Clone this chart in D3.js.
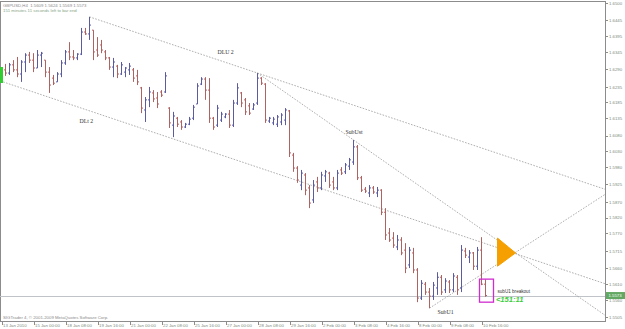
<!DOCTYPE html>
<html>
<head>
<meta charset="utf-8">
<script src="https://cdn.jsdelivr.net/npm/d3@7"></script>
<style>
    body { margin: 0; background: #fff; }
    svg text { font-family: "Liberation Sans", Arial, sans-serif; }
    .axis path, .axis line { stroke: #8c8c8c; shape-rendering: crispEdges; }
    .axis text { fill: #7d8a7d; font-size: 4.3px; }
    .trend { fill: none; stroke: #9a9a9a; stroke-width: 0.8; stroke-dasharray: 1.6 1.4; }
    .obj { font-family: "Liberation Serif", "Times New Roman", serif; font-size: 5.8px; fill: #333; }
</style>
</head>
<body>
<svg id="chart"></svg>
<script>
/**********************************************
 *
 * GBPUSD H4 bars, MT4 style
 *
 **********************************************/
const width = 625
const height = 329

const symbol = 'GBPUSD'
const period = 'H4'

// bar index -> OHLC
const opens = [
    1.6262, 1.6288, 1.6278, 1.6304, 1.6288, 1.6275, 1.6313, 1.6335, 1.6319, 1.6294,
    1.6335, 1.6319, 1.6281, 1.6262, 1.6250, 1.6275, 1.6310, 1.6345, 1.6329, 1.6326,
    1.6338, 1.6408, 1.6402, 1.6414, 1.6351, 1.6367, 1.6345, 1.6326, 1.6297, 1.6300,
    1.6275, 1.6281, 1.6288, 1.6288, 1.6269, 1.6231, 1.6161, 1.6193, 1.6215, 1.6199,
    1.6218, 1.6218, 1.6167, 1.6113, 1.6135, 1.6123, 1.6107, 1.6116, 1.6135, 1.6180,
    1.6243, 1.6259, 1.6224, 1.6135, 1.6113, 1.6129, 1.6139, 1.6148, 1.6113, 1.6183,
    1.6215, 1.6193, 1.6174, 1.6164, 1.6183, 1.6262, 1.6243, 1.6126, 1.6120, 1.6116,
    1.6123, 1.6129, 1.6158, 1.6018, 1.5977, 1.5923, 1.5955, 1.5914, 1.5876, 1.5933,
    1.5914, 1.5952, 1.5961, 1.5933, 1.5914, 1.5971, 1.5965, 1.5983, 1.5996, 1.6044,
    1.5946, 1.5910, 1.5898, 1.5914, 1.5898, 1.5907, 1.5837, 1.5771, 1.5755, 1.5727,
    1.5749, 1.5717, 1.5670, 1.5708, 1.5654, 1.5565, 1.5609, 1.5584, 1.5571, 1.5597,
    1.5631, 1.5591, 1.5616, 1.5591, 1.5631, 1.5597, 1.5714, 1.5695, 1.5708, 1.5666,
    1.5717, 1.5609
]
const highs = [
    1.6294, 1.6307, 1.6310, 1.6319, 1.6329, 1.6319, 1.6341, 1.6345, 1.6341, 1.6351,
    1.6345, 1.6319, 1.6297, 1.6272, 1.6281, 1.6319, 1.6351, 1.6376, 1.6351, 1.6341,
    1.6421, 1.6421, 1.6456, 1.6414, 1.6392, 1.6383, 1.6351, 1.6329, 1.6326, 1.6304,
    1.6313, 1.6297, 1.6310, 1.6294, 1.6288, 1.6234, 1.6202, 1.6234, 1.6224, 1.6218,
    1.6224, 1.6281, 1.6170, 1.6155, 1.6139, 1.6129, 1.6120, 1.6139, 1.6177, 1.6246,
    1.6265, 1.6265, 1.6262, 1.6139, 1.6177, 1.6155, 1.6151, 1.6161, 1.6193, 1.6246,
    1.6218, 1.6199, 1.6183, 1.6183, 1.6278, 1.6265, 1.6246, 1.6139, 1.6139, 1.6145,
    1.6151, 1.6167, 1.6161, 1.6025, 1.5983, 1.5971, 1.5961, 1.5923, 1.5939, 1.5949,
    1.5965, 1.5971, 1.5965, 1.5949, 1.5971, 1.5980, 1.5993, 1.6009, 1.6066, 1.6050,
    1.5952, 1.5917, 1.5923, 1.5920, 1.5917, 1.5910, 1.5850, 1.5787, 1.5774, 1.5765,
    1.5758, 1.5739, 1.5727, 1.5724, 1.5660, 1.5622, 1.5616, 1.5597, 1.5616, 1.5647,
    1.5638, 1.5628, 1.5622, 1.5644, 1.5638, 1.5733, 1.5724, 1.5717, 1.5711, 1.5727,
    1.5758, 1.5624
]
const lows = [
    1.6256, 1.6269, 1.6272, 1.6281, 1.6265, 1.6250, 1.6281, 1.6310, 1.6281, 1.6294,
    1.6297, 1.6265, 1.6215, 1.6240, 1.6250, 1.6265, 1.6304, 1.6319, 1.6319, 1.6319,
    1.6335, 1.6399, 1.6383, 1.6319, 1.6329, 1.6341, 1.6319, 1.6288, 1.6265, 1.6262,
    1.6272, 1.6265, 1.6272, 1.6250, 1.6240, 1.6151, 1.6123, 1.6170, 1.6186, 1.6167,
    1.6202, 1.6215, 1.6104, 1.6075, 1.6107, 1.6098, 1.6104, 1.6113, 1.6129, 1.6180,
    1.6240, 1.6193, 1.6120, 1.6098, 1.6107, 1.6123, 1.6135, 1.6104, 1.6107, 1.6177,
    1.6170, 1.6145, 1.6145, 1.6161, 1.6177, 1.6240, 1.6120, 1.6120, 1.6113, 1.6107,
    1.6113, 1.6113, 1.6012, 1.5965, 1.5930, 1.5907, 1.5891, 1.5850, 1.5866, 1.5901,
    1.5907, 1.5933, 1.5914, 1.5907, 1.5907, 1.5955, 1.5958, 1.5971, 1.5987, 1.5939,
    1.5901, 1.5898, 1.5885, 1.5895, 1.5885, 1.5828, 1.5749, 1.5743, 1.5724, 1.5717,
    1.5701, 1.5644, 1.5660, 1.5644, 1.5552, 1.5559, 1.5575, 1.5533, 1.5559, 1.5575,
    1.5575, 1.5581, 1.5581, 1.5584, 1.5575, 1.5584, 1.5692, 1.5676, 1.5654, 1.5654,
    1.5606, 1.5569
]
const closes = [
    1.6288, 1.6278, 1.6304, 1.6288, 1.6275, 1.6313, 1.6335, 1.6319, 1.6294, 1.6335,
    1.6341, 1.6281, 1.6240, 1.6246, 1.6275, 1.6310, 1.6345, 1.6329, 1.6326, 1.6338,
    1.6408, 1.6402, 1.6430, 1.6345, 1.6335, 1.6351, 1.6326, 1.6297, 1.6313, 1.6275,
    1.6304, 1.6294, 1.6300, 1.6262, 1.6250, 1.6167, 1.6193, 1.6218, 1.6196, 1.6180,
    1.6208, 1.6269, 1.6120, 1.6142, 1.6116, 1.6107, 1.6116, 1.6132, 1.6170, 1.6237,
    1.6259, 1.6224, 1.6135, 1.6107, 1.6167, 1.6148, 1.6148, 1.6113, 1.6183, 1.6231,
    1.6183, 1.6155, 1.6151, 1.6177, 1.6262, 1.6246, 1.6129, 1.6135, 1.6132, 1.6139,
    1.6145, 1.6161, 1.6025, 1.5977, 1.5939, 1.5961, 1.5907, 1.5866, 1.5923, 1.5914,
    1.5955, 1.5965, 1.5923, 1.5914, 1.5961, 1.5961, 1.5987, 1.6003, 1.6044, 1.5946,
    1.5907, 1.5904, 1.5914, 1.5901, 1.5907, 1.5837, 1.5765, 1.5749, 1.5733, 1.5749,
    1.5708, 1.5660, 1.5717, 1.5654, 1.5565, 1.5612, 1.5584, 1.5571, 1.5606, 1.5631,
    1.5584, 1.5619, 1.5591, 1.5635, 1.5591, 1.5717, 1.5701, 1.5708, 1.5666, 1.5717,
    1.5609, 1.5573
]

const priceTicks = [
    1.6500, 1.6445, 1.6395, 1.6345, 1.6290, 1.6235, 1.6185, 1.6135, 1.6080, 1.6030,
    1.5980, 1.5925, 1.5870, 1.5820, 1.5770, 1.5715, 1.5660, 1.5610, 1.5560, 1.5505
]
const dateTicks = [0, 8, 16, 24, 32, 40, 48, 56, 64, 72, 80, 88, 96, 104, 112, 120]
const dateLabels = [
    '13 Jan 2010', '15 Jan 00:00', '18 Jan 08:00', '19 Jan 16:00', '21 Jan 00:00',
    '22 Jan 08:00', '25 Jan 16:00', '27 Jan 00:00', '28 Jan 08:00', '29 Jan 16:00',
    '2 Feb 00:00', '3 Feb 08:00', '4 Feb 16:00', '8 Feb 00:00', '9 Feb 08:00', '10 Feb 16:00'
]

// chart objects, anchored at [bar, price]
const trendLines = [
    [[22, 1.6456], [64, 1.6278]],
    [[-1, 1.6256], [43, 1.6069]],
    [[64, 1.6278], [88, 1.6066]],
    [[107, 1.5533], [121, 1.5648]]
]
const textObjects = [
    [54, 1.6338, 'DLU 2'],
    [19.5, 1.6120, 'DLt 2'],
    [86, 1.6085, 'SubUst'],
    [109, 1.5514, 'SubU1']
]
const triangle = [[124, 1.5755], [124, 1.5666], [128.5, 1.5708]]
const breakoutBox = [[119.5, 1.5625], [123, 1.5552]]
const breakoutText = [124, 1.5581, 'subU1 breakout']
const timerText = [123.6, 1.5554, '<151:11']
const leftMarker = [1.6297, 1.6246]

const timerInfo = '151 minutes 11 seconds left to bar end'
const copyright = 'SIGTrader 4, \u00a9 2001-2009 MetaQuotes Software Corp.'

const plotRight = 605
const plotTop = 1.5
const plotBottom = 321.5
const lastBar = 151

const svg = d3.select('#chart')
    .attr('width', width)
    .attr('height', height)

const x = d3.scaleLinear().domain([0, lastBar]).range([1.5, plotRight + 0.5])
const y = d3.scaleLinear().domain([1.5505, 1.6500]).range([317, 3])

svg.append('clipPath').attr('id', 'plot')
    .append('rect')
    .attr('x', 0).attr('y', plotTop)
    .attr('width', plotRight).attr('height', plotBottom - plotTop)

// frame
svg.append('rect')
    .attr('x', 0.5).attr('y', plotTop)
    .attr('width', plotRight).attr('height', plotBottom - plotTop)
    .attr('fill', 'none').attr('stroke', '#8c8c8c')
    .attr('shape-rendering', 'crispEdges')

const plot = svg.append('g').attr('clip-path', 'url(#plot)')

// current price line
const last = closes.length - 1
plot.append('line')
    .attr('x1', 0).attr('x2', plotRight)
    .attr('y1', Math.round(y(closes[last])) + 0.5).attr('y2', Math.round(y(closes[last])) + 0.5)
    .attr('stroke', '#c0c4c8')

// trend lines, drawn as rays to the right edge
function priceAt(line, bar) {
    const [[b1, p1], [b2, p2]] = line
    return p1 + (p2 - p1) * (bar - b1) / (b2 - b1)
}
plot.selectAll('.trend')
    .data(trendLines)
    .join('line')
    .attr('class', 'trend')
    .attr('x1', d => x(d[0][0])).attr('y1', d => y(d[0][1]))
    .attr('x2', x(lastBar)).attr('y2', d => y(priceAt(d, lastBar)))

// bars
const bars = d3.range(opens.length).map(i => ({
    i, o: opens[i], h: highs[i], l: lows[i], c: closes[i]
}))
plot.selectAll('.bar')
    .data(bars)
    .join('path')
    .attr('class', 'bar')
    .attr('fill', 'none')
    .attr('stroke', d => d.c >= d.o ? '#5b5ba2' : '#b06262')
    .attr('stroke-width', 1)
    .attr('d', d => {
        const cx = x(d.i)
        return `M${cx},${y(d.h)}V${y(d.l)}M${cx - 1.5},${y(d.o)}H${cx}M${cx},${y(d.c)}H${cx + 1.5}`
    })

// green marker on the left edge, drawn over the frame
svg.append('rect')
    .attr('x', 0).attr('width', 3)
    .attr('y', y(leftMarker[0])).attr('height', y(leftMarker[1]) - y(leftMarker[0]))
    .attr('fill', '#33cc33')
    .attr('shape-rendering', 'crispEdges')

// triangle and breakout box
plot.append('path')
    .datum(triangle)
    .attr('d', d3.line().x(d => x(d[0])).y(d => y(d[1])).curve(d3.curveLinearClosed))
    .attr('fill', '#f5a000')
    .attr('stroke', '#f5a000')

plot.append('rect')
    .attr('x', x(breakoutBox[0][0])).attr('y', y(breakoutBox[0][1]))
    .attr('width', x(breakoutBox[1][0]) - x(breakoutBox[0][0]))
    .attr('height', y(breakoutBox[1][1]) - y(breakoutBox[0][1]))
    .attr('fill', 'none').attr('stroke', '#d02cd0').attr('stroke-width', 1.3)

// text objects
plot.selectAll('.obj')
    .data(textObjects)
    .join('text')
    .attr('class', 'obj')
    .attr('x', d => x(d[0])).attr('y', d => y(d[1]))
    .text(d => d[2])

plot.append('text')
    .attr('x', x(breakoutText[0])).attr('y', y(breakoutText[1]))
    .attr('font-size', 4.6).attr('fill', '#333')
    .text(breakoutText[2])

plot.append('text')
    .attr('x', x(timerText[0])).attr('y', y(timerText[1]))
    .attr('font-size', 7.6).attr('font-weight', 'bold').attr('font-style', 'italic')
    .attr('fill', '#3ccc3c')
    .text(timerText[2])

// right price scale
const yAxis = d3.axisRight(y)
    .tickValues(priceTicks)
    .tickSize(2)
    .tickPadding(1.5)
    .tickFormat(d3.format('.4f'))
const axisY = svg.append('g').attr('class', 'axis')
    .attr('transform', `translate(${plotRight + 0.5},0)`)
    .call(yAxis)
axisY.select('.domain').remove()

// current price label
const priceLabel = svg.append('g')
    .attr('transform', `translate(${plotRight + 1},${y(closes[last])})`)
priceLabel.append('rect')
    .attr('x', 0).attr('y', -3.5).attr('width', 19).attr('height', 7)
    .attr('fill', '#62a862')
priceLabel.append('text')
    .attr('x', 2.5).attr('y', 1.6)
    .attr('font-size', 4.3).attr('fill', '#fff')
    .text(d3.format('.4f')(closes[last]))

// time scale
const xAxis = d3.axisBottom(x)
    .tickValues(dateTicks)
    .tickSize(3)
    .tickFormat((d, i) => dateLabels[i])
const axisX = svg.append('g').attr('class', 'axis')
    .attr('transform', `translate(0,${plotBottom})`)
    .call(xAxis)
axisX.select('.domain').remove()
axisX.selectAll('text')
    .attr('text-anchor', 'start')
    .attr('dx', 1)
    .attr('y', 2.2)
    .attr('dy', '0.71em')

// header and footer texts
const header = `${symbol},${period}  ${d3.format('.4f')(opens[last])} ${d3.format('.4f')(highs[last])} ${d3.format('.4f')(lows[last])} ${d3.format('.4f')(closes[last])}`
svg.append('text').attr('x', 3).attr('y', 6.5)
    .attr('font-size', 4.3).attr('fill', '#8a8a8a').attr('xml:space', 'preserve')
    .text(header)
svg.append('text').attr('x', 3).attr('y', 12)
    .attr('font-size', 4.3).attr('fill', '#86a486')
    .text(timerInfo)
svg.append('text').attr('x', 3).attr('y', 318.5)
    .attr('font-size', 4.3).attr('fill', '#8a8a8a')
    .text(copyright)
</script>
</body>
</html>
